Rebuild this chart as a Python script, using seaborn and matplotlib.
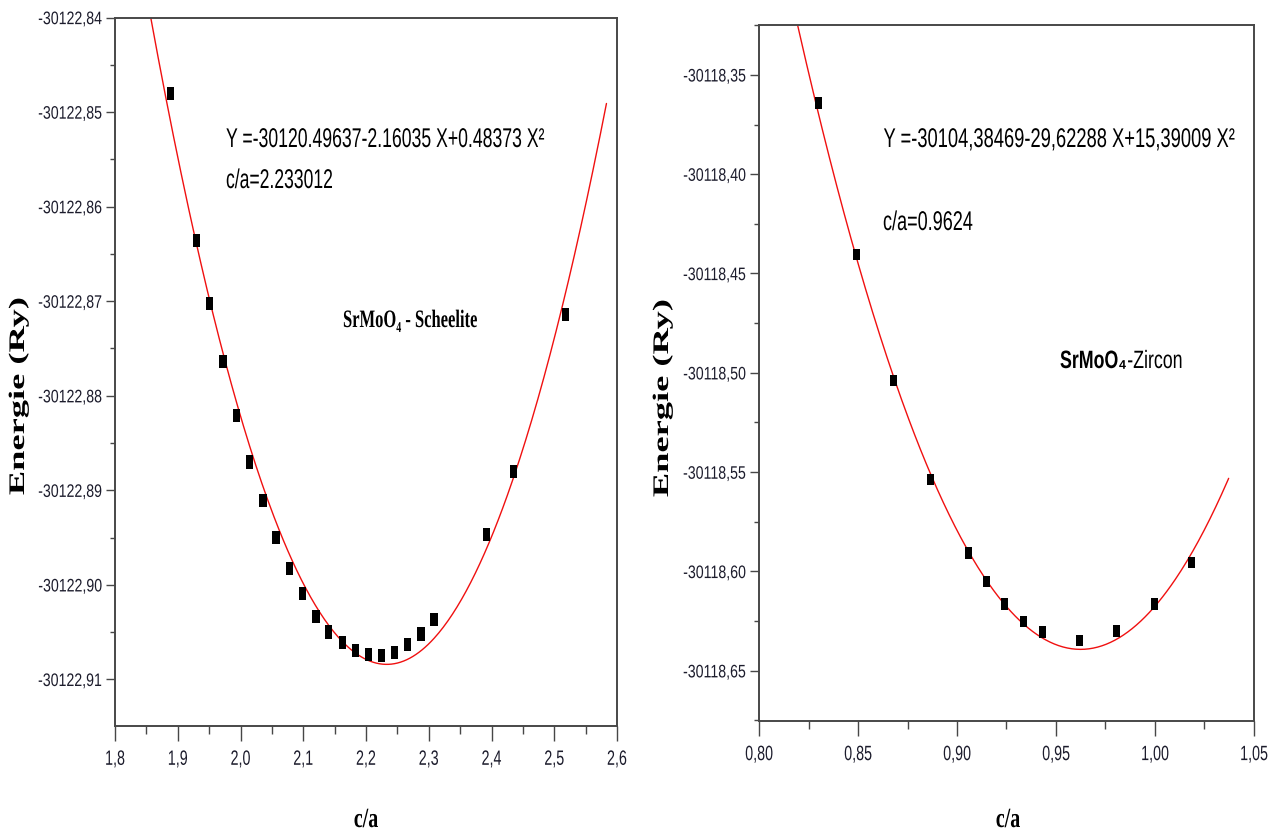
import numpy as np
import pandas as pd
import matplotlib
matplotlib.use("Agg")
import matplotlib.pyplot as plt
import seaborn as sns
from matplotlib.patheffects import AbstractPathEffect
from matplotlib.transforms import Affine2D
from matplotlib.path import Path
from matplotlib.ticker import AutoMinorLocator

# ---------------- data ----------------
sch_ca = [1.8885, 1.9302, 1.9510, 1.9719, 1.9934, 2.0142, 2.0357, 2.0565, 2.0780,
          2.0988, 2.1203, 2.1405, 2.1626, 2.1828, 2.2036, 2.2245, 2.2453, 2.2661,
          2.2876, 2.3085, 2.3924, 2.4354, 2.5181]
sch_E = [-30122.84800, -30122.86354, -30122.87020, -30122.87637, -30122.88206,
         -30122.88701, -30122.89112, -30122.89499, -30122.89826, -30122.90095,
         -30122.90334, -30122.90499, -30122.90615, -30122.90692, -30122.90741,
         -30122.90748, -30122.90713, -30122.90633, -30122.90520, -30122.90362,
         -30122.89464, -30122.88803, -30122.87137]
sch_coef = [-30120.49637, -2.16035, 0.48373]      # Y = a + bX + cX^2 (as printed)
sch_fit_range = [1.8566, 2.5832]

zir_ca = [0.8299, 0.8491, 0.8681, 0.8866, 0.9056, 0.9149, 0.9241, 0.9336, 0.9432,
          0.9620, 0.9806, 0.9998, 1.0186]
zir_E = [-30118.3642, -30118.4405, -30118.5039, -30118.5537, -30118.5907,
         -30118.6051, -30118.6163, -30118.6253, -30118.6306, -30118.6348,
         -30118.6300, -30118.6163, -30118.5955]
zir_coef = [-30104.38469, -29.62288, 15.39009]
zir_fit_range = [0.8196, 1.0372]

sch_xticks = [1.8, 1.9, 2.0, 2.1, 2.2, 2.3, 2.4, 2.5, 2.6]
sch_xticklabels = ["1,8", "1,9", "2,0", "2,1", "2,2", "2,3", "2,4", "2,5", "2,6"]
sch_yticks = [-30122.84, -30122.85, -30122.86, -30122.87, -30122.88, -30122.89,
              -30122.90, -30122.91]
sch_yticklabels = ["-30122,84", "-30122,85", "-30122,86", "-30122,87", "-30122,88",
                   "-30122,89", "-30122,90", "-30122,91"]
sch_xlim = [1.8, 2.6]
sch_ylim = [-30122.9149, -30122.84]

zir_xticks = [0.80, 0.85, 0.90, 0.95, 1.00, 1.05]
zir_xticklabels = ["0,80", "0,85", "0,90", "0,95", "1,00", "1,05"]
zir_yticks = [-30118.35, -30118.40, -30118.45, -30118.50, -30118.55, -30118.60,
              -30118.65]
zir_yticklabels = ["-30118,35", "-30118,40", "-30118,45", "-30118,50", "-30118,55",
                   "-30118,60", "-30118,65"]
zir_xlim = [0.80, 1.05]
zir_ylim = [-30118.6753, -30118.3249]

sch_eq = "Y =-30120.49637-2.16035 X+0.48373 X\u00b2"
sch_ca_txt = "c/a=2.233012"
sch_name = "SrMoO\u2084 - Scheelite"
zir_eq = "Y =-30104,38469-29,62288 X+15,39009 X\u00b2"
zir_ca_txt = "c/a=0.9624"
zir_name_a = "SrMoO\u2084"
zir_name_b = "-Zircon"
xlabel_txt = "c/a"
ylabel_txt = "Energie (Ry)"

# ---------------- style ----------------
sns.set_theme(style="ticks")
SANS = ["Liberation Sans", "DejaVu Sans"]
SERIF = ["Liberation Serif", "DejaVu Serif"]
plt.rcParams["font.family"] = SANS

W, H = 1281, 835
fig = plt.figure(figsize=(W / 100, H / 100), dpi=100)
fig.patch.set_facecolor("white")


class Stretch(AbstractPathEffect):
    """Draw a text path scaled in its own frame (tall, narrow lettering)."""
    def __init__(self, sx=1.0, sy=1.0, fx=0.5, fy=None):
        super().__init__()
        self.sx, self.sy, self.fx, self.fy = sx, sy, fx, fy

    def draw_path(self, renderer, gc, tpath, affine, rgbFace=None):
        v = tpath.vertices
        if tpath.codes is not None and len(v):
            v = v[tpath.codes != Path.CLOSEPOLY]
        ax_, ay_ = 0.0, 0.0
        if len(v):
            x0, x1 = v[:, 0].min(), v[:, 0].max()
            y0, y1 = v[:, 1].min(), v[:, 1].max()
            ax_ = x0 + self.fx * (x1 - x0)
            if self.fy is not None:
                ay_ = y0 + self.fy * (y1 - y0)
        t = (Affine2D().translate(-ax_, -ay_).scale(self.sx, self.sy)
             .translate(ax_, ay_) + affine)
        renderer.draw_path(gc, tpath, t, rgbFace)


def ftext(x, y, s, size, sy, family, weight="normal", ha="left", va="baseline",
          rotation=0, sx=1.0, color="black"):
    fx = {"left": 0.0, "center": 0.5, "right": 1.0}[ha]
    t = fig.text(x / W, 1 - y / H, s, fontsize=size, family=family, weight=weight,
                 ha=ha, va=va, rotation=rotation, color=color)
    t.set_path_effects([Stretch(sx, sy, fx, None)])
    return t


def rect_marker(ratio):
    w = ratio / 2
    return [(-w, -0.5), (w, -0.5), (w, 0.5), (-w, 0.5), (-w, -0.5)]


SPINE = "#474747"
TICKLAB = "#1c1c2c"


def panel(rect_px, ca, E, coef, frange, xticks, xtl, yticks, ytl, xlim, ylim,
          msize, mratio):
    l, t, r, b = rect_px
    ax = fig.add_axes([l / W, 1 - b / H, (r - l) / W, (b - t) / H])
    fx = np.linspace(frange[0], frange[1], 300)
    fy = coef[0] + coef[1] * fx + coef[2] * fx ** 2
    fit = pd.DataFrame({"ca": fx, "E": fy})
    pts = pd.DataFrame({"ca": ca, "E": E})
    sns.lineplot(data=fit, x="ca", y="E", ax=ax, color="#f01010", linewidth=1.0,
                 sort=False, estimator=None, zorder=2)
    sns.scatterplot(data=pts, x="ca", y="E", ax=ax, marker=rect_marker(mratio),
                    s=msize ** 2, color="black", edgecolor="none", linewidth=0,
                    zorder=3)
    ax.set_xlim(*xlim)
    ax.set_ylim(*ylim)
    ax.set_xticks(xticks, xtl)
    ax.set_yticks(yticks, ytl)
    ax.xaxis.set_minor_locator(AutoMinorLocator(2))
    ax.yaxis.set_minor_locator(AutoMinorLocator(2))
    ax.set_xlabel("")
    ax.set_ylabel("")
    for sp in ax.spines.values():
        sp.set_color(SPINE)
        sp.set_linewidth(1.4)
    ax.tick_params(axis="y", which="major", direction="out", length=6.5, width=1.0,
                   color=SPINE, pad=3.0, labelsize=10.2, labelcolor=TICKLAB)
    ax.tick_params(axis="y", which="minor", direction="out", length=3.6, width=1.0,
                   color=SPINE)
    ax.tick_params(axis="x", which="major", direction="out", length=10.8, width=1.0,
                   color=SPINE, pad=6.2, labelsize=10.3, labelcolor=TICKLAB)
    ax.tick_params(axis="x", which="minor", direction="out", length=5.8, width=1.0,
                   color=SPINE)
    ax.tick_params(top=False, right=False, which="both")
    for lab in ax.get_yticklabels():
        lab.set_path_effects([Stretch(1.0, 1.28, 1.0, 0.5)])
    for lab in ax.get_xticklabels():
        lab.set_path_effects([Stretch(1.0, 1.45, 0.5, 1.0)])
    ax.set_facecolor("white")
    return ax


ax1 = panel((115, 17.5, 617, 725.7), sch_ca, sch_E, sch_coef, sch_fit_range,
            sch_xticks, sch_xticklabels, sch_yticks, sch_yticklabels,
            sch_xlim, sch_ylim, 9.4, 0.56)
ax2 = panel((759, 25, 1254, 721), zir_ca, zir_E, zir_coef, zir_fit_range,
            zir_xticks, zir_xticklabels, zir_yticks, zir_yticklabels,
            zir_xlim, zir_ylim, 8.3, 0.60)

# annotations (left)
ftext(226, 147, sch_eq, 12.7, 1.536, SANS)
ftext(226, 188, sch_ca_txt, 12.64, 1.543, SANS)
ftext(343, 327, sch_name, 11.9, 1.515, SERIF, weight="bold")
# annotations (right)
ftext(883.5, 147, zir_eq, 13.2, 1.475, SANS)
ftext(883, 230, zir_ca_txt, 13.0, 1.5, SANS)
ta = ftext(1060, 368, zir_name_a, 12.8, 1.41, SANS, weight="bold")
renderer = fig.canvas.get_renderer()
wa = ta.get_window_extent(renderer).width
ftext(1060 + wa + 0.5, 368, zir_name_b, 12.8, 1.41, SANS)

# axis labels
for cx in (366, 1008):
    ftext(cx, 827, xlabel_txt, 14.4, 1.39, SERIF, weight="bold", ha="center")
for cx, cy in ((19, 396), (663, 398)):
    ftext(cx, cy, ylabel_txt, 16, 1.0, SERIF, weight="bold", ha="center",
          va="center", rotation=90, sx=1.64)

fig.savefig("out.png", dpi=100, facecolor="white")
